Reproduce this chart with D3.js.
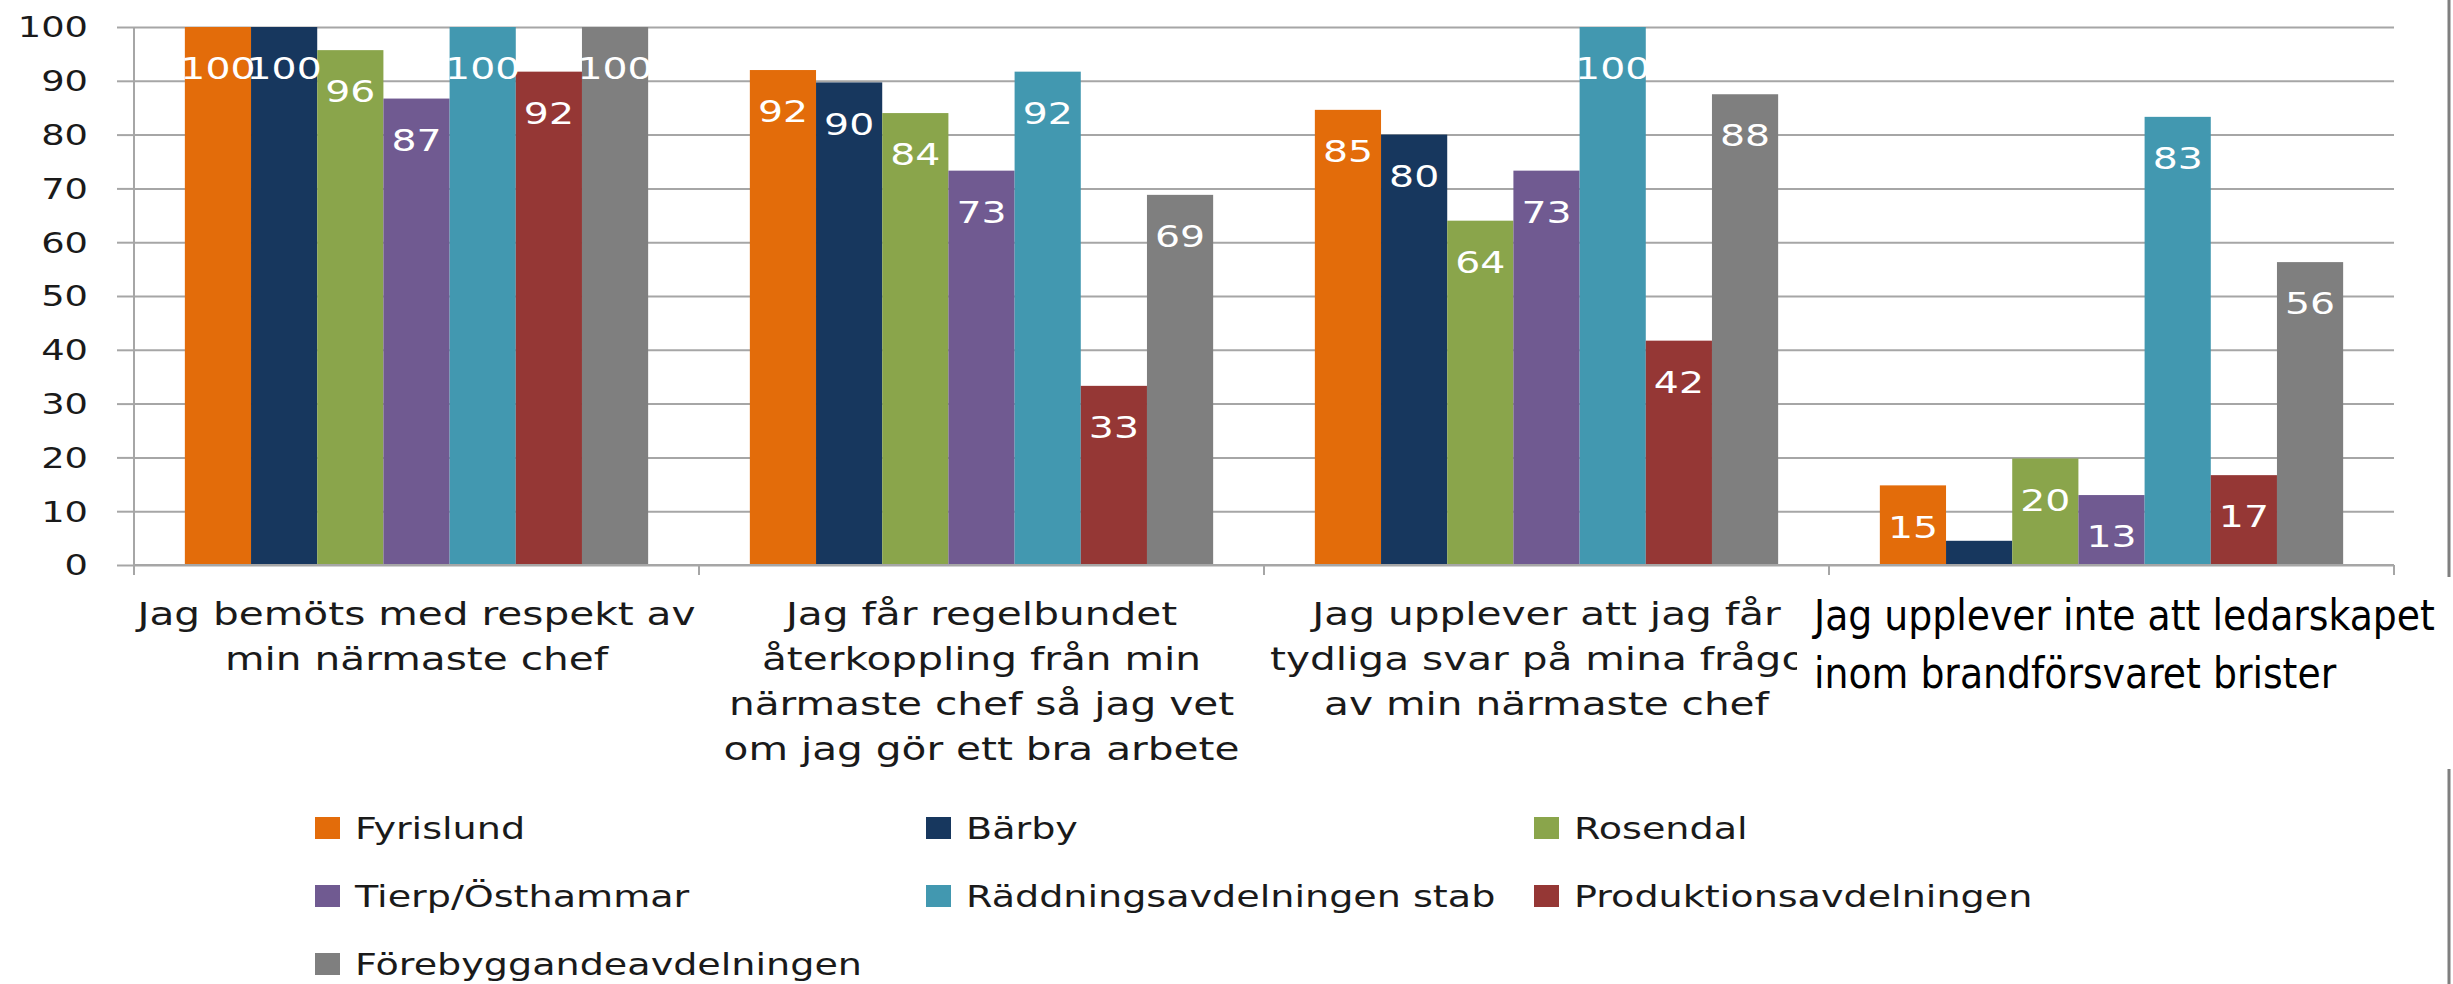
<!DOCTYPE html>
<html>
<head>
<meta charset="utf-8">
<script src="https://cdn.jsdelivr.net/npm/d3@7"></script>
<style>
  body { margin: 0; background: #fff; }
  text { font-family: "DejaVu Sans", Verdana, sans-serif; }
</style>
</head>
<body>
<div id="chart"></div>
<script>
// * DATA (percent per question and unit)
const categories = [
  ["Jag bemöts med respekt av", "min närmaste chef"],
  ["Jag får regelbundet", "återkoppling från min", "närmaste chef så jag vet", "om jag gör ett bra arbete"],
  ["Jag upplever att jag får", "tydliga svar på mina frågor", "av min närmaste chef"],
  ["Jag upplever inte att ledarskapet", "inom brandförsvaret brister"]
];
const seriesNames = ["Fyrislund", "Bärby", "Rosendal", "Tierp/Östhammar",
  "Räddningsavdelningen stab", "Produktionsavdelningen", "Förebyggandeavdelningen"];
const fyrislund  = [100, 92, 84.6, 14.8];
const barby      = [100, 89.7, 80, 4.5];
const rosendal   = [95.7, 84, 64, 19.8];
const tierp      = [86.7, 73.3, 73.3, 13];
const raddning   = [100, 91.7, 100, 83.3];
const produktion = [91.7, 33.3, 41.7, 16.7];
const forebygg   = [100, 68.8, 87.5, 56.3];
const yTicks = [0, 10, 20, 30, 40, 50, 60, 70, 80, 90, 100];

const colors = ["#E36C0A", "#17375E", "#8AA54B", "#705A91", "#4298B0", "#953735", "#7F7F7F"];
const allSeries = [fyrislund, barby, rosendal, tierp, raddning, produktion, forebygg];

// set the dimensions of the graph
var W = 2453, H = 984;
var plot = {left: 134, right: 2394, top: 27, bottom: 565};
var sx = 1.27; // the original text is drawn wide

var svg = d3.select("#chart")
  .append("svg")
  .attr("width", W)
  .attr("height", H);

var x0 = d3.scaleBand()
  .domain(d3.range(categories.length))
  .range([plot.left, plot.right])
  .paddingInner(0.18)
  .paddingOuter(0.09);

var x1 = d3.scaleBand()
  .domain(d3.range(seriesNames.length))
  .range([0, x0.bandwidth()]);

var y = d3.scaleLinear()
  .domain([0, 100])
  .range([plot.bottom, plot.top]);

// gridlines
var yAxis = d3.axisLeft(y)
  .tickValues(yTicks)
  .tickSize(-(plot.right - plot.left))
  .tickSizeOuter(0)
  .tickFormat("");
var YAXIS = svg.append("g")
  .attr("transform", "translate(" + plot.left + ",0)")
  .call(yAxis);
YAXIS.select(".domain").remove();
YAXIS.selectAll("line").attr("stroke", "#a6a6a6").attr("stroke-width", 2).attr("x2", -17);
YAXIS.selectAll(".tick").append("line")
  .attr("x1", 0).attr("x2", plot.right - plot.left)
  .attr("stroke", "#a6a6a6").attr("stroke-width", 2);

// tick labels
svg.append("g").selectAll("g")
  .data(yTicks)
  .enter()
  .append("g")
  .attr("transform", function(d){ return "translate(88," + y(d) + ") scale(" + sx + ",1)"; })
  .append("text")
  .attr("text-anchor", "end")
  .attr("dy", "0.36em")
  .attr("font-size", 29)
  .attr("fill", "#1a1a1a")
  .text(function(d){ return d; });

// bars
var groups = svg.append("g").selectAll("g")
  .data(categories)
  .enter()
  .append("g")
  .attr("transform", function(d, i){ return "translate(" + x0(i) + ",0)"; });

groups.selectAll("rect")
  .data(function(d, i){ return allSeries.map(function(s, j){ return {s: j, v: s[i]}; }); })
  .enter()
  .append("rect")
  .attr("x", function(d){ return x1(d.s); })
  .attr("y", function(d){ return y(d.v); })
  .attr("width", x1.bandwidth())
  .attr("height", function(d){ return y(0) - y(d.v); })
  .attr("fill", function(d){ return colors[d.s]; });

// data labels
groups.selectAll(".lbl")
  .data(function(d, i){ return allSeries.map(function(s, j){ return {s: j, v: s[i]}; }); })
  .enter()
  .filter(function(d){ return d.v >= 8; })
  .append("g")
  .attr("class", "lbl")
  .attr("transform", function(d){ return "translate(" + (x1(d.s) + x1.bandwidth()/2) + "," + (y(d.v) + 41) + ") scale(" + sx + ",1)"; })
  .append("text")
  .attr("text-anchor", "middle")
  .attr("dy", "0.36em")
  .attr("font-size", 31)
  .attr("fill", "#fff")
  .text(function(d){ return d3.format(".0f")(d.v); });

// x axis line and category ticks
svg.append("line")
  .attr("x1", plot.left).attr("x2", plot.right)
  .attr("y1", plot.bottom).attr("y2", plot.bottom)
  .attr("stroke", "#a6a6a6").attr("stroke-width", 2);
svg.append("line")
  .attr("x1", plot.left).attr("x2", plot.left)
  .attr("y1", plot.top).attr("y2", plot.bottom + 10)
  .attr("stroke", "#a6a6a6").attr("stroke-width", 2);
var step = x0.step();
svg.append("g").selectAll("line")
  .data(d3.range(1, categories.length + 1))
  .enter()
  .append("line")
  .attr("x1", function(k){ return plot.left + k * step; })
  .attr("x2", function(k){ return plot.left + k * step; })
  .attr("y1", plot.bottom).attr("y2", plot.bottom + 10)
  .attr("stroke", "#a6a6a6").attr("stroke-width", 2);

// category labels (first three)
var catLbl = svg.append("g").selectAll("g")
  .data(categories.slice(0, 3))
  .enter()
  .append("g")
  .attr("transform", function(d, i){ return "translate(" + (x0(i) + x0.bandwidth()/2) + ",625) scale(" + sx + ",1)"; });
catLbl.selectAll("text")
  .data(function(d){ return d; })
  .enter()
  .append("text")
  .attr("text-anchor", "middle")
  .attr("y", function(d, i){ return i * 45; })
  .attr("font-size", 32)
  .attr("fill", "#1a1a1a")
  .text(function(d){ return d; });

// right frame line
svg.append("line")
  .attr("x1", 2449).attr("x2", 2449)
  .attr("y1", 0).attr("y2", H)
  .attr("stroke", "#7f7f7f").attr("stroke-width", 3);

// last category label was pasted on top with a white box
svg.append("rect")
  .attr("x", 1797).attr("y", 577)
  .attr("width", W - 1797).attr("height", 192)
  .attr("fill", "#fff");
svg.append("g")
  .attr("transform", "translate(1814,630) scale(0.9,1)")
  .selectAll("text")
  .data(categories[3])
  .enter()
  .append("text")
  .attr("y", function(d, i){ return i * 58; })
  .attr("font-family", "'Open Sans', sans-serif")
  .attr("font-size", 42)
  .attr("fill", "#000")
  .text(function(d){ return d; });

// legend
var legX = [315, 926, 1534], legY = [828, 896, 964];
var leg = svg.append("g").selectAll("g")
  .data(seriesNames)
  .enter()
  .append("g")
  .attr("transform", function(d, i){ return "translate(" + legX[i % 3] + "," + legY[Math.floor(i / 3)] + ")"; });
leg.append("rect")
  .attr("x", 0).attr("y", -11)
  .attr("width", 25).attr("height", 22)
  .attr("fill", function(d, i){ return colors[i]; });
leg.append("g")
  .attr("transform", "translate(40,0) scale(" + sx + ",1)")
  .append("text")
  .attr("dy", "0.36em")
  .attr("font-size", 30)
  .attr("fill", "#1a1a1a")
  .text(function(d){ return d; });
</script>
</body>
</html>
